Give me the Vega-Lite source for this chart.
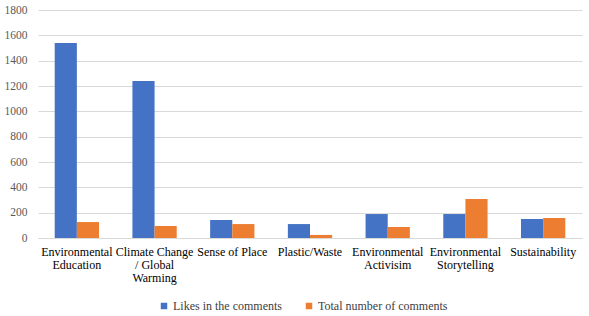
{
  "$schema": "https://vega.github.io/schema/vega-lite/v6.json",
  "width": 544,
  "height": 228,
  "autosize": "none",
  "padding": {"left": 38, "top": 10, "right": 7, "bottom": 78},
  "background": "white",
  "config": {
    "font": "'Liberation Serif', 'Times New Roman', serif",
    "axis": {"labelFont": "'Liberation Serif', 'Times New Roman', serif"},
    "legend": {"labelFont": "'Liberation Serif', 'Times New Roman', serif"},
    "view": {"stroke": null}
  },
  "data": {
    "values": [
      {"topic": "Environmental Education", "series": "Likes in the comments", "value": 1539},
      {"topic": "Environmental Education", "series": "Total number of comments", "value": 126},
      {"topic": "Climate Change / Global Warming", "series": "Likes in the comments", "value": 1239},
      {"topic": "Climate Change / Global Warming", "series": "Total number of comments", "value": 95},
      {"topic": "Sense of Place", "series": "Likes in the comments", "value": 142},
      {"topic": "Sense of Place", "series": "Total number of comments", "value": 110},
      {"topic": "Plastic/Waste", "series": "Likes in the comments", "value": 110},
      {"topic": "Plastic/Waste", "series": "Total number of comments", "value": 24},
      {"topic": "Environmental Activisim", "series": "Likes in the comments", "value": 189},
      {"topic": "Environmental Activisim", "series": "Total number of comments", "value": 87},
      {"topic": "Environmental Storytelling", "series": "Likes in the comments", "value": 189},
      {"topic": "Environmental Storytelling", "series": "Total number of comments", "value": 308},
      {"topic": "Sustainability", "series": "Likes in the comments", "value": 150},
      {"topic": "Sustainability", "series": "Total number of comments", "value": 158}
    ]
  },
  "mark": {"type": "bar"},
  "encoding": {
    "x": {
      "field": "topic",
      "type": "nominal",
      "sort": null,
      "scale": {"paddingInner": 0.43, "paddingOuter": 0.215},
      "axis": {
        "title": null,
        "labelAngle": 0,
        "ticks": false,
        "domainColor": "#D9D9D9",
        "labelColor": "#000000",
        "labelFontSize": 12,
        "labelPadding": 8,
        "labelLineHeight": 13.3,
        "labelBaseline": "top",
        "labelExpr": "datum.value == 'Climate Change / Global Warming' ? ['Climate Change', '/ Global', 'Warming'] : (datum.value == 'Sense of Place' || datum.value == 'Plastic/Waste' || datum.value == 'Sustainability') ? datum.value : split(datum.value, ' ')"
      }
    },
    "xOffset": {"field": "series", "type": "nominal", "scale": {"paddingInner": 0, "paddingOuter": 0}},
    "y": {
      "field": "value",
      "type": "quantitative",
      "scale": {"domain": [0, 1800], "nice": false},
      "axis": {
        "title": null,
        "format": "d",
        "values": [0, 200, 400, 600, 800, 1000, 1200, 1400, 1600, 1800],
        "domain": false,
        "ticks": false,
        "gridColor": "#D9D9D9",
        "labelColor": "#595959",
        "labelFontSize": 11.5,
        "labelPadding": 11
      }
    },
    "color": {
      "field": "series",
      "type": "nominal",
      "scale": {"domain": ["Likes in the comments", "Total number of comments"], "range": ["#4472C4", "#ED7D31"]},
      "legend": {
        "title": null,
        "orient": "none",
        "direction": "horizontal",
        "legendX": 120,
        "legendY": 290,
        "symbolType": "square",
        "symbolSize": 42,
        "symbolStrokeWidth": 0,
        "labelFontSize": 12,
        "labelColor": "#404040",
        "labelOffset": 3,
        "columnPadding": 21
      }
    }
  }
}
